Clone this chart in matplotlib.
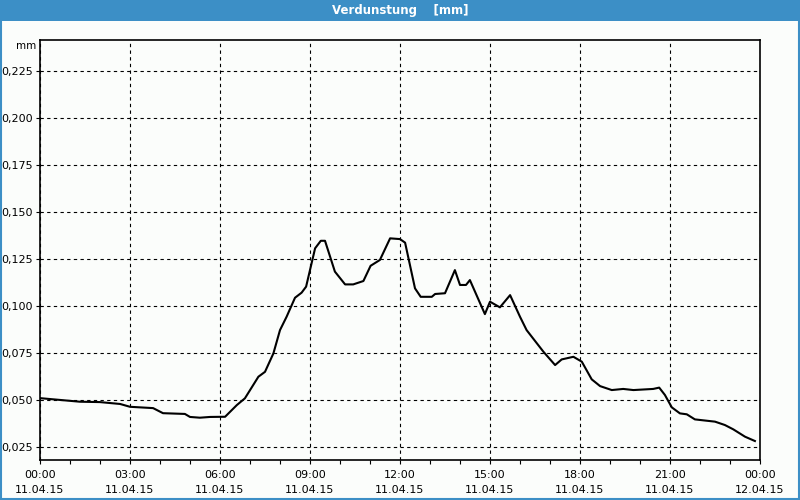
import numpy as np
import matplotlib.pyplot as plt
from matplotlib.ticker import FixedLocator, FuncFormatter
from matplotlib.patches import Rectangle

# Verdunstung curve, hours since 11.04.15 00:00 -> mm
hours = [0.00, 1.33, 2.00, 2.67, 3.00, 3.77, 4.10, 4.83, 5.00, 5.33, 5.67,
         6.17, 6.56, 6.83, 7.28, 7.50, 7.78, 8.00, 8.22, 8.50, 8.72, 8.87,
         9.17, 9.36, 9.50, 9.83, 10.17, 10.44, 10.78, 11.02, 11.33, 11.67,
         12.00, 12.17, 12.50, 12.69, 13.06, 13.17, 13.50, 13.83, 14.00, 14.20,
         14.33, 14.83, 15.00, 15.33, 15.67, 16.00, 16.22, 16.78, 17.17, 17.39,
         17.78, 18.06, 18.39, 18.67, 19.06, 19.44, 19.78, 20.44, 20.64, 20.83,
         21.06, 21.33, 21.56, 21.83, 22.22, 22.50, 22.83, 23.11, 23.50, 23.83]
values = [0.0510, 0.0491, 0.0489, 0.0479, 0.0464, 0.0457, 0.0430, 0.0426,
          0.0410, 0.0406, 0.0410, 0.0411, 0.0473, 0.0509, 0.0624, 0.0650,
          0.0748, 0.0872, 0.0943, 0.1044, 0.1071, 0.1103, 0.1307, 0.1347,
          0.1347, 0.1183, 0.1115, 0.1115, 0.1133, 0.1214, 0.1245, 0.1360,
          0.1356, 0.1337, 0.1094, 0.1049, 0.1049, 0.1064, 0.1068, 0.1191,
          0.1112, 0.1112, 0.1138, 0.0957, 0.1023, 0.0993, 0.1058, 0.0943,
          0.0872, 0.0757, 0.0686, 0.0716, 0.0730, 0.0704, 0.0610, 0.0574,
          0.0553, 0.0559, 0.0553, 0.0559, 0.0566, 0.0527, 0.0461, 0.0429,
          0.0424, 0.0397, 0.0390, 0.0385, 0.0367, 0.0344, 0.0305, 0.0282]

y_ticks = [0.025, 0.050, 0.075, 0.100, 0.125, 0.150, 0.175, 0.200, 0.225]
x_ticks = [0, 3, 6, 9, 12, 15, 18, 21, 24]
x_labels = ['00:00\n11.04.15', '03:00\n11.04.15', '06:00\n11.04.15',
            '09:00\n11.04.15', '12:00\n11.04.15', '15:00\n11.04.15',
            '18:00\n11.04.15', '21:00\n11.04.15', '00:00\n12.04.15']

title = 'Verdunstung    [mm]'
unit = 'mm'

bg = '#fbfdfb'
blue = '#3c8fc6'

fig = plt.figure(figsize=(8, 5), dpi=100, facecolor=bg)
ax = fig.add_axes([40 / 800, 40 / 500, 720 / 800, 420 / 500])
ax.set_facecolor(bg)

ax.plot(hours, values, color='black', linewidth=1.5)

ax.set_xlim(0, 24)
ax.set_ylim(0.0181, 0.2415)

ax.xaxis.set_major_locator(FixedLocator(x_ticks))
ax.xaxis.set_minor_locator(FixedLocator(np.arange(0, 25, 1)))
ax.set_xticklabels(x_labels, linespacing=1.7)
ax.yaxis.set_major_locator(FixedLocator(y_ticks))
ax.yaxis.set_major_formatter(FuncFormatter(lambda v, p: f'{v:.3f}'.replace('.', ',')))

ax.tick_params(axis='both', which='major', direction='out', length=3,
               width=0.8, labelsize=8, pad=2, color='black')
ax.tick_params(axis='x', which='minor', direction='out', length=3, width=0.8)
ax.tick_params(axis='x', which='major', pad=4)
ax.grid(True, which='major', color='black', linestyle=(0, (3, 3)), linewidth=0.8)

for s in ax.spines.values():
    s.set_linewidth(1.2)
    s.set_color('black')

fig.text(36 / 800, 1 - 46 / 500, unit, ha='right', va='center', fontsize=7.5)

# title bar and window border
fig.patches.append(Rectangle((0, 1 - 21 / 500), 1, 21 / 500, transform=fig.transFigure,
                             facecolor=blue, edgecolor='none', zorder=0))
fig.text(0.5, 1 - 10.5 / 500, title, ha='center', va='center', fontsize=8.5,
         color='white', fontweight='bold')
fig.add_artist(plt.Line2D([1 / 800, 1 / 800], [0, 1], transform=fig.transFigure,
                          color=blue, linewidth=1.5))
fig.add_artist(plt.Line2D([799 / 800, 799 / 800], [0, 1], transform=fig.transFigure,
                          color=blue, linewidth=1.5))
fig.add_artist(plt.Line2D([0, 1], [1 / 500, 1 / 500], transform=fig.transFigure,
                          color=blue, linewidth=1.5))

plt.savefig('out.png', dpi=100, facecolor=bg)
plt.close()
